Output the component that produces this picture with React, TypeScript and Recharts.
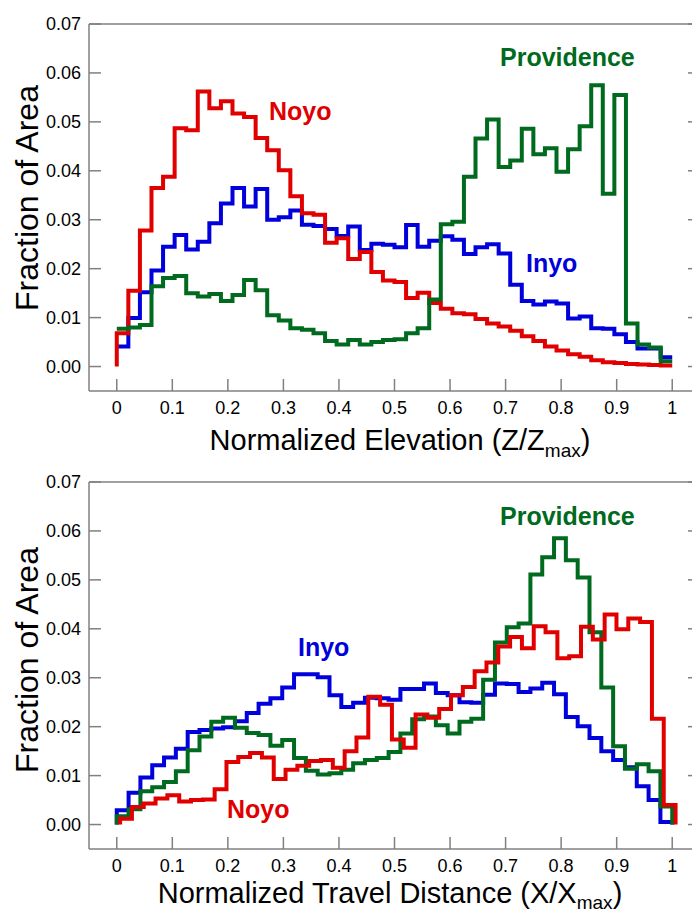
import React from 'react'
import { LineChart, Line, XAxis, YAxis } from 'recharts'

// fraction of area per bin, 48 bins over normalized elevation
const noyoElev = [
  0.0068, 0.0155, 0.0278, 0.0365, 0.0388, 0.0487, 0.0483, 0.0562, 0.0528, 0.0542, 0.0517, 0.051, 0.0467, 0.0442, 0.0401, 0.0348,
  0.0313, 0.031, 0.0253, 0.0262, 0.022, 0.0234, 0.0193, 0.0176, 0.0173, 0.014, 0.0151, 0.013, 0.0118, 0.0109, 0.0107, 0.0097,
  0.0088, 0.0082, 0.0073, 0.0062, 0.0052, 0.0041, 0.0033, 0.0025, 0.002, 0.0013, 0.0009, 0.0007, 0.0005, 0.0004, 0.0003, 0.0002,
]
const inyoElev = [
  0.0041, 0.0099, 0.0152, 0.0196, 0.0245, 0.0269, 0.0239, 0.0255, 0.0293, 0.0333, 0.0365, 0.0327, 0.0363, 0.03, 0.0305, 0.0319,
  0.029, 0.0287, 0.0281, 0.0267, 0.0286, 0.0238, 0.0251, 0.0249, 0.0244, 0.0289, 0.0245, 0.0257, 0.0266, 0.0259, 0.023, 0.0244,
  0.025, 0.0231, 0.0167, 0.0134, 0.0127, 0.0133, 0.0129, 0.0098, 0.0102, 0.0078, 0.0077, 0.0066, 0.005, 0.0037, 0.0037, 0.0019,
]
const providenceElev = [
  0.0077, 0.008, 0.0085, 0.0164, 0.0181, 0.0185, 0.015, 0.0143, 0.0148, 0.0134, 0.0146, 0.0177, 0.0156, 0.0105, 0.0094, 0.0078,
  0.0075, 0.0068, 0.0052, 0.0045, 0.0054, 0.0045, 0.005, 0.0054, 0.0056, 0.0068, 0.0078, 0.0137, 0.0291, 0.0296, 0.0388, 0.0466,
  0.0505, 0.0408, 0.0421, 0.0486, 0.0434, 0.0446, 0.0398, 0.0444, 0.0491, 0.0575, 0.0353, 0.0555, 0.0088, 0.0045, 0.0039, 0.0011,
]

// 47 bins over normalized travel distance
const noyoDist = [
  0.0012, 0.0036, 0.0043, 0.0053, 0.006, 0.0047, 0.005, 0.0051, 0.0072, 0.0128, 0.0138, 0.0146, 0.0137, 0.0093, 0.0112, 0.012,
  0.013, 0.0132, 0.0116, 0.015, 0.0178, 0.0261, 0.0245, 0.0174, 0.0157, 0.0225, 0.0218, 0.0236, 0.0264, 0.0281, 0.0313, 0.0331,
  0.0364, 0.0383, 0.036, 0.0405, 0.0393, 0.034, 0.0344, 0.0404, 0.0378, 0.0429, 0.0399, 0.0421, 0.0414, 0.0216, 0.004,
]
const inyoDist = [
  0.0029, 0.0065, 0.0096, 0.0121, 0.0137, 0.0155, 0.0189, 0.0193, 0.0196, 0.0199, 0.0211, 0.0228, 0.0247, 0.0258, 0.028, 0.0307,
  0.0307, 0.0301, 0.0264, 0.024, 0.0249, 0.0259, 0.0258, 0.0255, 0.0277, 0.0277, 0.0288, 0.0269, 0.0264, 0.025, 0.0249, 0.0265,
  0.0288, 0.0287, 0.0271, 0.0278, 0.029, 0.0266, 0.022, 0.0201, 0.0177, 0.015, 0.0132, 0.0117, 0.0078, 0.005, 0.0005,
]
const providenceDist = [
  0.0017, 0.0031, 0.0068, 0.0076, 0.0087, 0.0109, 0.0152, 0.018, 0.021, 0.0218, 0.0198, 0.0187, 0.0183, 0.0161, 0.0173, 0.0136,
  0.011, 0.0102, 0.0105, 0.0112, 0.0125, 0.0132, 0.0136, 0.0148, 0.0186, 0.0215, 0.0221, 0.0203, 0.0186, 0.021, 0.0216, 0.0296,
  0.0372, 0.0403, 0.0411, 0.0511, 0.0546, 0.0585, 0.054, 0.0505, 0.0393, 0.028, 0.016, 0.0114, 0.0123, 0.0109, 0.0037,
]
// the Noyo distance histogram sits slightly right of the others
const noyoDistShift = 0.006

const xTicks = [0, 0.1, 0.2, 0.3, 0.4, 0.5, 0.6, 0.7, 0.8, 0.9, 1]
const yTicks = [0, 0.01, 0.02, 0.03, 0.04, 0.05, 0.06, 0.07]

const NOYO = '#e00000'
const INYO = '#0000dc'
const PROV = '#006a1e'
const FRAME = '#808080'
const FONT = '"Liberation Sans", Arial, sans-serif'

type Pt = { x: number; y: number }

function stepPoints(values: number[], shift = 0, startZero = false, endZero = false): Pt[] {
  const n = values.length
  const pts: Pt[] = []
  if (startZero) pts.push({ x: shift, y: 0 })
  values.forEach((v, i) => pts.push({ x: i / n + shift, y: v }))
  pts.push({ x: 1 + shift, y: values[n - 1] })
  if (endZero) pts.push({ x: 1 + shift, y: 0 })
  return pts
}

const fmtX = (v: number) => String(Math.round(v * 10) / 10)

function BottomTick({ x, y, payload }: any) {
  return (
    <g>
      <line x1={x} x2={x} y1={y} y2={y - 12} stroke={FRAME} strokeWidth={1.5} />
      <text x={x} y={y + 23} textAnchor="middle" fontSize={18} fontFamily={FONT} fill="#000">
        {fmtX(payload.value)}
      </text>
    </g>
  )
}

function TopTick({ x, y }: any) {
  return <line x1={x} x2={x} y1={y} y2={y + 12} stroke={FRAME} strokeWidth={1.5} />
}

function LeftTick({ x, y, payload }: any) {
  return (
    <g>
      <line x1={x} x2={x + 12} y1={y} y2={y} stroke={FRAME} strokeWidth={1.5} />
      <text x={x - 8} y={y + 6} textAnchor="end" fontSize={18} fontFamily={FONT} fill="#000">
        {payload.value.toFixed(2)}
      </text>
    </g>
  )
}

function RightTick({ x, y }: any) {
  return <line x1={x} x2={x - 12} y1={y} y2={y} stroke={FRAME} strokeWidth={1.5} />
}

interface Series {
  data: Pt[]
  color: string
}

function Panel({ series }: { series: Series[] }) {
  const axisLine = { stroke: FRAME, strokeWidth: 1.5 }
  return (
    <LineChart width={705} height={458} margin={{ top: 0, right: 4, bottom: 7, left: 9 }}>
      <XAxis
        xAxisId="b"
        dataKey="x"
        type="number"
        domain={[-0.05, 1.05]}
        ticks={xTicks}
        allowDataOverflow
        height={60}
        axisLine={axisLine}
        tickLine={false}
        tickSize={0}
        tickMargin={0}
        tick={BottomTick}
        interval={0}
      />
      <XAxis
        xAxisId="t"
        orientation="top"
        type="number"
        domain={[-0.05, 1.05]}
        ticks={xTicks}
        allowDataOverflow
        height={24}
        axisLine={axisLine}
        tickLine={false}
        tickSize={0}
        tickMargin={0}
        tick={TopTick}
        interval={0}
      />
      <YAxis
        yAxisId="l"
        type="number"
        domain={[-0.005, 0.07]}
        ticks={yTicks}
        allowDataOverflow
        width={80}
        axisLine={axisLine}
        tickLine={false}
        tickSize={0}
        tickMargin={0}
        tick={LeftTick}
        interval={0}
      />
      <YAxis
        yAxisId="r"
        orientation="right"
        type="number"
        domain={[-0.005, 0.07]}
        ticks={yTicks}
        allowDataOverflow
        width={1}
        axisLine={axisLine}
        tickLine={false}
        tickSize={0}
        tickMargin={0}
        tick={RightTick}
        interval={0}
      />
      {series.map((s, i) => (
        <Line
          key={i}
          xAxisId="b"
          yAxisId="l"
          data={s.data}
          dataKey="y"
          type="stepAfter"
          stroke={s.color}
          strokeWidth={4}
          strokeLinejoin="miter"
          dot={false}
          activeDot={false}
          isAnimationActive={false}
        />
      ))}
    </LineChart>
  )
}

export default function App() {
  const topSeries: Series[] = [
    { data: stepPoints(inyoElev), color: INYO },
    { data: stepPoints(noyoElev, 0, true), color: NOYO },
    { data: stepPoints(providenceElev), color: PROV },
  ]
  const bottomSeries: Series[] = [
    { data: stepPoints(inyoDist, 0, true, true), color: INYO },
    { data: stepPoints(providenceDist, 0, true, true), color: PROV },
    { data: stepPoints(noyoDist, noyoDistShift, true, true), color: NOYO },
  ]

  const label = (t: string, x: number, y: number, c: string) => (
    <text x={x} y={y} fill={c} fontSize={25} fontWeight="bold" fontFamily={FONT}>
      {t}
    </text>
  )

  return (
    <div
      style={{
        position: 'absolute',
        left: 0,
        top: 0,
        width: 692,
        height: 915,
        overflow: 'hidden',
        background: '#fff',
      }}
    >
      <div style={{ position: 'absolute', left: 0, top: 0 }}>
        <Panel series={topSeries} />
      </div>
      <div style={{ position: 'absolute', left: 0, top: 458 }}>
        <Panel series={bottomSeries} />
      </div>
      <svg
        width={692}
        height={915}
        style={{ position: 'absolute', left: 0, top: 0, pointerEvents: 'none' }}
      >
        <text x={400} y={450} textAnchor="middle" fontSize={29} fontFamily={FONT} fill="#000">
          Normalized Elevation (Z/Z<tspan fontSize={19} dy={7}>max</tspan>
          <tspan dy={-7}>)</tspan>
        </text>
        <text x={390} y={903} textAnchor="middle" fontSize={29} fontFamily={FONT} fill="#000">
          Normalized Travel Distance (X/X<tspan fontSize={19} dy={6}>max</tspan>
          <tspan dy={-6}>)</tspan>
        </text>
        <text
          transform="translate(38,198) rotate(-90)"
          textAnchor="middle"
          fontSize={32}
          fontFamily={FONT}
          fill="#000"
        >
          Fraction of Area
        </text>
        <text
          transform="translate(38,660) rotate(-90)"
          textAnchor="middle"
          fontSize={32}
          fontFamily={FONT}
          fill="#000"
        >
          Fraction of Area
        </text>
        {label('Noyo', 269, 120, NOYO)}
        {label('Providence', 500, 66, PROV)}
        {label('Inyo', 526, 272, INYO)}
        {label('Inyo', 298, 656, INYO)}
        {label('Noyo', 227, 818, NOYO)}
        {label('Providence', 500, 525, PROV)}
      </svg>
    </div>
  )
}
